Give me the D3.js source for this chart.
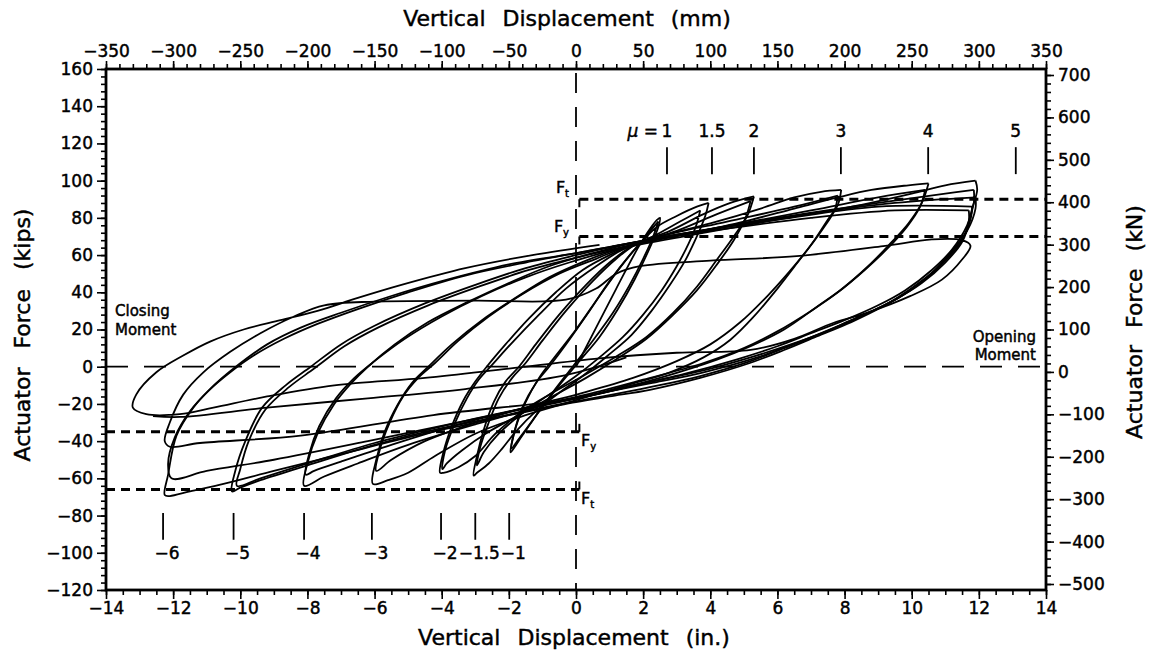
<!DOCTYPE html>
<html>
<head>
<meta charset="utf-8">
<script src="https://cdn.jsdelivr.net/npm/d3@7"></script>
<style>
  body { margin: 0; background: #fff; }
  text { font-family: "DejaVu Sans", sans-serif; fill: #000; stroke: #000; stroke-width: 0.45px; }
</style>
</head>
<body>
<svg id="chart" width="1154" height="656"></svg>
<script>
// hysteresis loops, [displacement (in.), force (kips)], in loading order
const loop01 = [[0,0],[1.2,42],[1.85,64],[2.2,74],[2.42,79],[2.5,80],[2.45,75],[2.15,62],[1.75,47],[1.25,31],[0.7,16],[0.1,3],[-0.5,-10],[-1.1,-24],[-1.6,-37],[-1.9,-45],[-1.95,-46],[-1.85,-36],[-1.6,-22],[-1.2,-9],[-0.8,0],[-0.3,12],[0.4,30],[1.0,46],[1.6,60],[2.0,68],[2.35,76],[2.45,78]];
const loop02 = [[2.45,78],[2.3,70],[2.0,58],[1.6,44],[1.1,29],[0.5,14],[-0.1,0],[-0.7,-14],[-1.3,-29],[-1.75,-40],[-1.92,-44],[-1.8,-33],[-1.5,-19],[-1.1,-6],[-0.6,6],[0,20],[0.7,38],[1.3,53],[1.8,64],[2.4,75],[3.0,81],[3.6,86],[3.95,88]];
const loop03 = [[3.95,88],[3.85,81],[3.6,70],[3.25,57],[2.8,44],[2.25,30],[1.65,17],[0.95,6],[0.2,-5],[-0.5,-14],[-1.2,-24],[-1.8,-35],[-2.2,-44],[-2.6,-52],[-2.95,-57],[-3.05,-58.5],[-2.95,-48],[-2.75,-34],[-2.45,-19],[-2.1,-8],[-1.7,0],[-1.2,12],[-0.5,28],[0.3,44],[1.0,56],[1.6,64],[2.4,71],[3.1,78],[3.7,84]];
const loop04 = [[3.7,84],[3.6,77],[3.35,66],[3.0,54],[2.55,41],[2.0,28],[1.4,16],[0.7,5],[0,-5],[-0.8,-15],[-1.6,-25],[-2.3,-36],[-2.75,-46],[-2.95,-53],[-2.85,-43],[-2.6,-30],[-2.3,-17],[-1.9,-6],[-1.5,2],[-1.0,14],[-0.3,30],[0.5,46],[1.2,58],[1.8,66],[2.8,73],[3.8,82],[4.6,88],[5.3,91.5]];
const loop05 = [[5.3,91.5],[5.1,81],[4.7,70],[4.2,57.6],[3.6,43],[2.9,29],[2.1,16],[1.2,5.5],[0.2,-5],[-0.7,-14],[-1.6,-24],[-2.4,-36],[-3.0,-48],[-3.5,-54],[-3.95,-57],[-4.05,-57],[-3.95,-46],[-3.7,-32],[-3.35,-18],[-3.0,-8],[-2.66,0],[-2.1,12],[-1.4,26],[-0.6,40],[0.2,52],[1.0,60],[1.8,66],[3.0,73],[4.2,82],[5.2,89]];
const loop06 = [[5.2,89],[5.05,80],[4.7,68],[4.2,55],[3.6,41],[2.9,28],[2.1,15],[1.2,4],[0.3,-6],[-0.6,-15],[-1.6,-25],[-2.6,-35],[-3.4,-45],[-3.85,-52],[-3.98,-55],[-3.9,-45],[-3.6,-30],[-3.25,-17],[-2.9,-7],[-2.5,1],[-1.9,13],[-1.1,28],[-0.3,42],[0.6,54],[1.4,63],[2.5,70],[4,77],[5.5,85],[6.5,91],[7.3,94],[7.9,95]];
const loop07 = [[7.9,95],[7.8,87],[7.5,79],[7.1,68],[6.6,56],[6.0,42],[5.3,27],[4.6,14.5],[3.8,5],[2.8,-3],[1.5,-10],[0,-18],[-1.5,-26],[-3,-36],[-4.2,-48],[-5.0,-57],[-5.6,-61],[-6.05,-63],[-5.95,-50],[-5.7,-35],[-5.3,-20],[-4.9,-9],[-4.4,0],[-3.7,12],[-2.8,25],[-1.8,37],[-0.8,48],[0.3,57],[1.2,63],[2.5,70],[4.5,78],[6.5,86],[7.8,92]];
const loop08 = [[7.8,92],[7.7,84],[7.35,74],[6.9,63],[6.35,51],[5.7,38],[4.9,24],[4.0,12],[3.0,3],[1.7,-6],[0.2,-14],[-1.5,-22],[-3,-30],[-4.5,-40],[-5.5,-50],[-5.95,-56],[-5.85,-45],[-5.55,-30],[-5.15,-16],[-4.7,-6],[-4.2,2],[-3.5,14],[-2.6,27],[-1.6,39],[-0.5,50],[0.6,58],[1.6,65],[3.5,72],[5,78],[6.5,85],[7.8,91],[8.8,95],[9.9,97.5],[10.5,98.5]];
const loop09 = [[10.5,98.5],[10.3,88],[9.9,77],[9.3,65],[8.7,54],[7.9,41.5],[7.2,32.5],[6.2,20],[5.2,11],[4.2,3.8],[2.5,-6],[0.8,-14],[-1,-21],[-3,-31],[-5,-42],[-6.5,-52],[-7.5,-59],[-8.1,-64],[-8.0,-52],[-7.7,-36],[-7.2,-20],[-6.7,-9],[-6.2,0],[-5.4,12],[-4.4,24],[-3.2,35],[-2,45],[-0.8,54],[0.5,61],[1.8,67],[4,74],[7,84],[9,91],[10.4,95]];
const loop10 = [[10.4,95],[10.25,86],[9.85,75],[9.25,63],[8.6,52],[7.8,40],[7.0,30],[6,19],[5,10],[3.8,2],[2,-7],[0.3,-15],[-1.5,-22],[-3.5,-31],[-5.5,-42],[-7,-51],[-7.8,-56],[-8.05,-58],[-7.95,-47],[-7.65,-32],[-7.15,-17],[-6.6,-6],[-6.0,3],[-5.1,15],[-4.0,27],[-2.8,38],[-1.5,48],[-0.2,56],[1.2,63],[3.5,71],[6,79],[8.5,87],[10,93],[11,97.5],[11.9,100]];
const loop11 = [[11.9,100],[11.95,95],[11.8,85],[11.6,72],[11.1,60],[10.6,50.5],[9.9,41],[9.15,32.5],[8.2,24],[7.17,16.3],[6.2,9],[5.18,2],[3.7,-6],[2.2,-12.4],[1,-16],[0,-19],[-2,-26],[-4,-33],[-6,-42],[-8,-53],[-9.4,-61],[-10.0,-65],[-10.25,-67],[-10.15,-56],[-9.85,-40],[-9.35,-22],[-8.65,-10],[-7.9,0],[-7,12],[-6,22],[-4.5,34],[-3,44],[-1.5,53],[0,60],[1.2,65],[3,71],[6,80],[9,88],[11,93],[11.85,95]];
const loop12 = [[11.85,95],[11.85,88],[11.65,76],[11.2,63],[10.6,52],[9.8,41],[9,33],[8,25],[7,18],[6,11],[4.8,4],[3.2,-4],[1.5,-11],[0,-17],[-2,-24],[-4,-32],[-6,-41],[-8,-52],[-9.4,-60],[-10.1,-64],[-10.0,-55],[-9.75,-40],[-9.25,-23],[-8.55,-11],[-7.8,-1],[-6.9,11],[-5.9,21],[-4.4,33],[-2.9,43],[-1.4,52],[0.1,59],[1.3,64],[3.5,72],[6.5,81],[9.5,88],[11.9,91]];
const loop13 = [[11.9,91],[11.9,85],[11.65,73],[11.2,62],[10.65,51],[9.95,41],[9.2,33],[8.2,25],[7.2,17],[6.2,10],[5.2,3],[3.7,-5],[2.2,-11],[0.8,-16],[-1,-22],[-3,-30],[-5,-38],[-7,-47],[-9,-56],[-10.5,-63],[-11.5,-67],[-12.1,-69.5],[-12.25,-69],[-12.15,-58],[-11.9,-37],[-11.4,-22],[-10.9,-12],[-10.2,-1],[-9.2,12],[-8.2,21],[-7,29],[-5.5,38],[-4,46],[-2,55],[0,61],[1.2,65],[3,71],[6,79],[9,86],[11.8,86]];
const loop14 = [[11.8,86],[11.75,79],[11.5,68],[11,57],[10.4,47],[9.6,37],[8.7,29],[7.7,21],[6.6,13],[5.4,5],[3.8,-3],[2.2,-9],[0.5,-15],[-3,-28],[-6.2,-40],[-9,-50],[-11,-56],[-12.05,-60],[-12.15,-52],[-11.95,-38],[-11.5,-24],[-10.95,-13],[-10.3,-3],[-9.6,6],[-8.7,15],[-7.7,23],[-6.5,31],[-5,40],[-3.3,49],[-1.5,56],[0.3,62],[1.5,66],[4,73],[7,80],[9.5,84],[11.7,84]];
const loop15 = [[11.7,84],[11.7,78],[11.5,67],[11,56],[10.3,45],[9.5,36],[8.6,28],[7.6,20],[6.4,12],[5.2,5],[3.8,-2],[2,-9],[0,-17],[-4.25,-26],[-8.2,-37],[-11.2,-41],[-12.1,-43],[-12.25,-40],[-12.1,-30],[-11.7,-15],[-11.1,-3],[-10.3,8],[-9.4,18],[-8.4,27],[-7.5,33],[-6,35],[-3,35.5],[-0.3,36],[0.6,42],[1.2,50],[1.9,54],[4,57],[6.57,59.4],[9.15,64.8],[10.6,68.4],[11.5,68],[11.75,65],[11.5,57.6],[10.9,46.8],[9.95,37.9],[8.66,28.9],[7.66,23.5],[6.5,15],[5.2,9],[3,7.5],[0.7,4.5],[-2,-1],[-4.5,-6],[-7.2,-10],[-9.2,-16],[-10.8,-22],[-11.8,-25.5],[-12.8,-25.5],[-13.2,-22],[-13.1,-15],[-12.5,-3],[-11.7,6],[-10.9,13.5],[-9.9,20],[-8.8,25],[-7.7,30],[-6.5,37],[-5.2,44],[-3.3,53],[-1.3,60],[0.7,65.5]];
const loop16 = [[1.5,5],[-0.3,-4.5],[-3.3,-12],[-6.2,-17],[-9.2,-22],[-11.8,-27],[-12.6,-26.5]];
const loops = [loop01, loop02, loop03, loop04, loop05, loop06, loop07, loop08, loop09, loop10, loop11, loop12, loop13, loop14, loop15, loop16];

// ductility markers
const muPosX = [2.71, 4.05, 5.30, 7.89, 10.49, 13.1];
const muPosLabels = ['1', '1.5', '2', '3', '4', '5'];
const muNegX = [-12.3, -10.2, -8.1, -6.08, -4.02, -3.0, -1.99];
const muNegLabels = ['\u22126', '\u22125', '\u22124', '\u22123', '\u22122', '\u22121.5', '\u22121'];

// yield and tip force levels (kips)
const forcePos = [90, 70];   // Ft, Fy opening
const forceNeg = [-35, -66]; // Fy, Ft closing

const xTicksIn = d3.range(-14, 15, 2);
const xTicksMm = d3.range(-350, 351, 50);
const yTicksKip = d3.range(-120, 161, 20);
const yTicksKn = d3.range(-500, 701, 100);

const W = 1154, H = 656;
const L = 106, R = 1046, T = 69, B = 590;

const svg = d3.select('#chart');
svg.append('rect').attr('width', W).attr('height', H).attr('fill', '#fff');

const xIn = d3.scaleLinear().domain([-14, 14]).range([L, R]);
const xMm = d3.scaleLinear().domain([-350, 350]).range([L, R]);
const yKip = d3.scaleLinear().domain([-120, 160]).range([B, T]);
const yKn = d3.scaleLinear().domain([-500, 700]).range([584, 75]);

function styleAxis(g, fs) {
  g.select('.domain').remove();
  g.selectAll('.tick line').attr('stroke', '#000').attr('stroke-width', 1.6);
  g.selectAll('.tick text').style('font-size', fs + 'px').style('font-family', '"DejaVu Sans", sans-serif').attr('fill', '#000');
}

// minor ticks
const minors = [
  [d3.axisBottom(xIn).tickValues(d3.range(-14, 14.01, 0.5)).tickSize(5), `translate(0,${B})`],
  [d3.axisTop(xMm).tickValues(d3.range(-350, 351, 10)).tickSize(5), `translate(0,${T})`],
  [d3.axisLeft(yKip).tickValues(d3.range(-120, 161, 4)).tickSize(5), `translate(${L},0)`],
  [d3.axisRight(yKn).tickValues(d3.range(-500, 701, 20)).tickSize(5), `translate(${R},0)`]
];
minors.forEach(([ax, tr]) => {
  svg.append('g').attr('transform', tr).call(ax.tickFormat('').tickSizeOuter(0)).call(g => styleAxis(g, 17));
});

// major ticks + labels
svg.append('g').attr('transform', `translate(0,${B})`)
  .call(d3.axisBottom(xIn).tickValues(xTicksIn).tickSize(9).tickPadding(3).tickSizeOuter(0))
  .call(g => styleAxis(g, 17));
svg.append('g').attr('transform', `translate(0,${T})`)
  .call(d3.axisTop(xMm).tickValues(xTicksMm).tickSize(8).tickPadding(4).tickSizeOuter(0))
  .call(g => styleAxis(g, 17));
svg.append('g').attr('transform', `translate(${L},0)`)
  .call(d3.axisLeft(yKip).tickValues(yTicksKip).tickSize(9).tickPadding(4).tickSizeOuter(0))
  .call(g => styleAxis(g, 17));
svg.append('g').attr('transform', `translate(${R},0)`)
  .call(d3.axisRight(yKn).tickValues(yTicksKn).tickSize(8).tickPadding(4).tickSizeOuter(0))
  .call(g => styleAxis(g, 17));

// frame
svg.append('rect').attr('x', L).attr('y', T).attr('width', R - L).attr('height', B - T)
  .attr('fill', 'none').attr('stroke', '#000').attr('stroke-width', 2.8);

// axis titles
svg.append('text').attr('x', 567).attr('y', 26).attr('text-anchor', 'middle')
  .style('font-size', '22px').style('word-spacing', '10px').text('Vertical Displacement (mm)');
svg.append('text').attr('x', 574).attr('y', 645).attr('text-anchor', 'middle')
  .style('font-size', '22px').style('word-spacing', '10px').text('Vertical Displacement (in.)');
svg.append('text').attr('transform', 'translate(30,335) rotate(-90)').attr('text-anchor', 'middle')
  .style('font-size', '22px').style('word-spacing', '12px').text('Actuator Force (kips)');
svg.append('text').attr('transform', 'translate(1142,322) rotate(-90)').attr('text-anchor', 'middle')
  .style('font-size', '22px').style('word-spacing', '10px').text('Actuator Force (kN)');

// reference lines
svg.append('line').attr('x1', xIn(0)).attr('x2', xIn(0)).attr('y1', T + 4).attr('y2', B)
  .attr('stroke', '#000').attr('stroke-width', 1.8).attr('stroke-dasharray', '20,14');
svg.append('line').attr('x1', L).attr('x2', R).attr('y1', yKip(0)).attr('y2', yKip(0))
  .attr('stroke', '#000').attr('stroke-width', 1.8).attr('stroke-dasharray', '22,16');

forcePos.forEach(f => {
  svg.append('line').attr('x1', xIn(0.1)).attr('x2', R).attr('y1', yKip(f)).attr('y2', yKip(f))
    .attr('stroke', '#000').attr('stroke-width', 3).attr('stroke-dasharray', '9,6');
  svg.append('line').attr('x1', xIn(0.1)).attr('x2', xIn(0.1)).attr('y1', yKip(f)).attr('y2', yKip(f) + 8)
    .attr('stroke', '#000').attr('stroke-width', 2);
});
forceNeg.forEach(f => {
  svg.append('line').attr('x1', L).attr('x2', xIn(0.1)).attr('y1', yKip(f)).attr('y2', yKip(f))
    .attr('stroke', '#000').attr('stroke-width', 3).attr('stroke-dasharray', '9,6');
  svg.append('line').attr('x1', xIn(0.1)).attr('x2', xIn(0.1)).attr('y1', yKip(f) - 8).attr('y2', yKip(f))
    .attr('stroke', '#000').attr('stroke-width', 2);
});

function fLabel(x, y, sub, anchor) {
  const t = svg.append('text').attr('x', x).attr('y', y).attr('text-anchor', anchor).style('font-size', '16px');
  t.append('tspan').text('F');
  t.append('tspan').attr('dy', 4).style('font-size', '10px').text(sub);
}
fLabel(xIn(0) - 7, yKip(forcePos[0]) - 6, 't', 'end');
fLabel(xIn(0) - 7, yKip(forcePos[1]) - 4, 'y', 'end');
fLabel(xIn(0) + 5, yKip(forceNeg[0]) + 14, 'y', 'start');
fLabel(xIn(0) + 5, yKip(forceNeg[1]) + 14, 't', 'start');

// hysteresis curves
const line = d3.line()
  .x(d => xIn(d[0]))
  .y(d => yKip(d[1]))
  .curve(d3.curveCatmullRom.alpha(0.5));

svg.append('g').selectAll('path').data(loops).join('path')
  .attr('d', line)
  .attr('fill', 'none').attr('stroke', '#000').attr('stroke-width', 1.8)
  .attr('stroke-linejoin', 'round');

// ductility markers
const gm = svg.append('g');
gm.selectAll('line.pos').data(muPosX).join('line').attr('class', 'pos')
  .attr('x1', d => xIn(d)).attr('x2', d => xIn(d))
  .attr('y1', yKip(118)).attr('y2', yKip(103.5))
  .attr('stroke', '#000').attr('stroke-width', 1.8);
gm.selectAll('text.pos').data(muPosX).join('text').attr('class', 'pos')
  .attr('x', d => xIn(d)).attr('y', yKip(123.5)).attr('text-anchor', 'middle')
  .style('font-size', '17px').text((d, i) => muPosLabels[i]);
gm.append('text').attr('x', xIn(muPosX[0]) - 9).attr('y', yKip(123.5)).attr('text-anchor', 'end')
  .style('font-size', '17px').html('<tspan font-style="italic">\u03bc</tspan> =');

gm.selectAll('line.neg').data(muNegX).join('line').attr('class', 'neg')
  .attr('x1', d => xIn(d)).attr('x2', d => xIn(d))
  .attr('y1', yKip(-78.6)).attr('y2', yKip(-93))
  .attr('stroke', '#000').attr('stroke-width', 1.8);
gm.selectAll('text.neg').data(muNegX).join('text').attr('class', 'neg')
  .attr('x', d => xIn(d) + 4).attr('y', yKip(-103.5)).attr('text-anchor', 'middle')
  .style('font-size', '17px').text((d, i) => muNegLabels[i]);

// moment direction notes
svg.append('text').attr('x', 115).attr('y', 316).style('font-size', '15px').text('Closing');
svg.append('text').attr('x', 115).attr('y', 335).style('font-size', '15px').text('Moment');
svg.append('text').attr('x', 1036).attr('y', 342).attr('text-anchor', 'end').style('font-size', '15px').text('Opening');
svg.append('text').attr('x', 1036).attr('y', 360).attr('text-anchor', 'end').style('font-size', '15px').text('Moment');
</script>
</body>
</html>
